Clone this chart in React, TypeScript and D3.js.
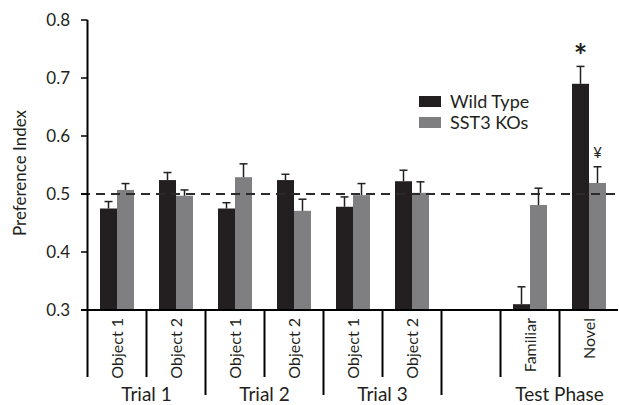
import * as d3 from 'd3';

// categories along the x axis (empty slot between Trial 3 and Test Phase)
const categories = ['t1o1', 't1o2', 't2o1', 't2o2', 't3o1', 't3o2', 'gap', 'fam', 'nov'];
const catLabels = ['Object 1', 'Object 2', 'Object 1', 'Object 2', 'Object 1', 'Object 2', '', 'Familiar', 'Novel'];

const wildType = [0.475, 0.524, 0.475, 0.524, 0.478, 0.522, null, 0.31, 0.69];
const wildTypeErr = [0.012, 0.013, 0.01, 0.01, 0.017, 0.019, null, 0.03, 0.03];
const knockout = [0.507, 0.497, 0.529, 0.471, 0.498, 0.502, null, 0.481, 0.519];
const knockoutErr = [0.011, 0.01, 0.023, 0.02, 0.02, 0.019, null, 0.029, 0.028];

const groupLabels = ['Trial 1', 'Trial 2', 'Trial 3', 'Test Phase'];
const groupFirst = [0, 2, 4, 7];
const groupLast = [1, 3, 5, 8];
const longDividers = [2, 4, 6];

const yTicks = [0.3, 0.4, 0.5, 0.6, 0.7, 0.8];
const series = ['Wild Type', 'SST3 KOs'];
const colors = ['#231f20', '#7f7f82'];

const FONT = 'Lato, "Open Sans", sans-serif';

export default function App() {
  const W = 619;
  const H = 405;
  const axisX = 87.5;

  const x = d3.scaleBand<string>().domain(categories).range([axisX, 618.5]);
  const y = d3.scaleLinear().domain([0.3, 0.8]).range([310, 20]);
  const inner = d3.scaleBand<string>().domain(series).range([-17, 17]);

  const bars: { cat: string; s: number; v: number; e: number; i: number }[] = [];
  categories.forEach((c, i) => {
    if (wildType[i] != null) bars.push({ cat: c, s: 0, v: wildType[i] as number, e: wildTypeErr[i] as number, i });
    if (knockout[i] != null) bars.push({ cat: c, s: 1, v: knockout[i] as number, e: knockoutErr[i] as number, i });
  });

  const center = (c: string) => (x(c) as number) + x.bandwidth() / 2;
  const novIdx = categories.indexOf('nov');

  return (
    <svg width={W} height={H} style={{ position: 'absolute', left: 0, top: 0, display: 'block', background: '#fff' }}>
      {/* bars */}
      {bars.map((b, k) => {
        const bx = center(b.cat) + (inner(series[b.s]) as number);
        return (
          <rect key={'b' + k} x={bx} y={y(b.v)} width={inner.bandwidth()} height={y(0.3) - y(b.v)} fill={colors[b.s]} />
        );
      })}
      {/* error bars */}
      {bars.map((b, k) => {
        const cx = center(b.cat) + (inner(series[b.s]) as number) + inner.bandwidth() / 2;
        return (
          <g key={'e' + k} stroke="#231f20" strokeWidth={1.5}>
            <line x1={cx} x2={cx} y1={y(b.v)} y2={y(b.v + b.e)} />
            <line x1={cx - 4} x2={cx + 4} y1={y(b.v + b.e)} y2={y(b.v + b.e)} />
          </g>
        );
      })}
      {/* chance level */}
      <line x1={81} x2={618} y1={y(0.5)} y2={y(0.5)} stroke="#2b2b2b" strokeWidth={2.2} strokeDasharray="9,6" />

      {/* y axis */}
      <line x1={axisX} x2={axisX} y1={y(0.8)} y2={377} stroke="#000" strokeWidth={2} />
      {yTicks.map(t => (
        <g key={'t' + t}>
          <line x1={81} x2={axisX} y1={y(t)} y2={y(t)} stroke="#000" strokeWidth={1.5} />
          <text x={70} y={y(t)} dy="0.35em" textAnchor="end" fontFamily={FONT} fontSize={17} fill="#231f20">
            {t.toFixed(1)}
          </text>
        </g>
      ))}
      <text transform={`translate(26,${(y(0.8) + y(0.3)) / 2 + 8}) rotate(-90)`} textAnchor="middle" fontFamily={FONT} fontSize={17} fill="#231f20">
        Preference Index
      </text>

      {/* x axis */}
      <line x1={81} x2={618} y1={y(0.3)} y2={y(0.3)} stroke="#000" strokeWidth={2} />
      {categories.map((c, i) =>
        i === 0 ? null : (
          <line key={'d' + c} x1={x(c)} x2={x(c)} y1={y(0.3)} y2={longDividers.includes(i) ? 395 : 377} stroke="#000" strokeWidth={2} />
        )
      )}
      {categories.map((c, i) =>
        catLabels[i] ? (
          <text key={'l' + c} transform={`translate(${center(c)},318) rotate(-90)`} dy="0.35em" textAnchor="end" fontFamily={FONT} fontSize={16} fill="#231f20">
            {catLabels[i]}
          </text>
        ) : null
      )}
      {groupLabels.map((g, i) => {
        const gx = ((x(categories[groupFirst[i]]) as number) + (x(categories[groupLast[i]]) as number) + x.bandwidth()) / 2;
        return (
          <text key={'g' + g} x={gx} y={401} textAnchor="middle" fontFamily={FONT} fontSize={19} fill="#231f20">
            {g}
          </text>
        );
      })}

      {/* significance marks */}
      <text x={center('nov') + (inner(series[0]) as number) + inner.bandwidth() / 2} y={y((wildType[novIdx] as number) + (wildTypeErr[novIdx] as number)) + 2} textAnchor="middle" fontFamily={FONT} fontSize={32} fontWeight={700} fill="#231f20">
        *
      </text>
      <text x={center('nov') + (inner(series[1]) as number) + inner.bandwidth() / 2} y={y((knockout[novIdx] as number) + (knockoutErr[novIdx] as number)) - 9} textAnchor="middle" fontFamily={FONT} fontSize={15} fill="#231f20">
        ¥
      </text>

      {/* legend */}
      {series.map((s, i) => (
        <g key={'lg' + s} transform={`translate(419,${96 + i * 21})`}>
          <rect width={22} height={11} fill={colors[i]} />
          <text x={31} y={6} dy="0.35em" fontFamily={FONT} fontSize={18} fill="#231f20">
            {s}
          </text>
        </g>
      ))}
    </svg>
  );
}
